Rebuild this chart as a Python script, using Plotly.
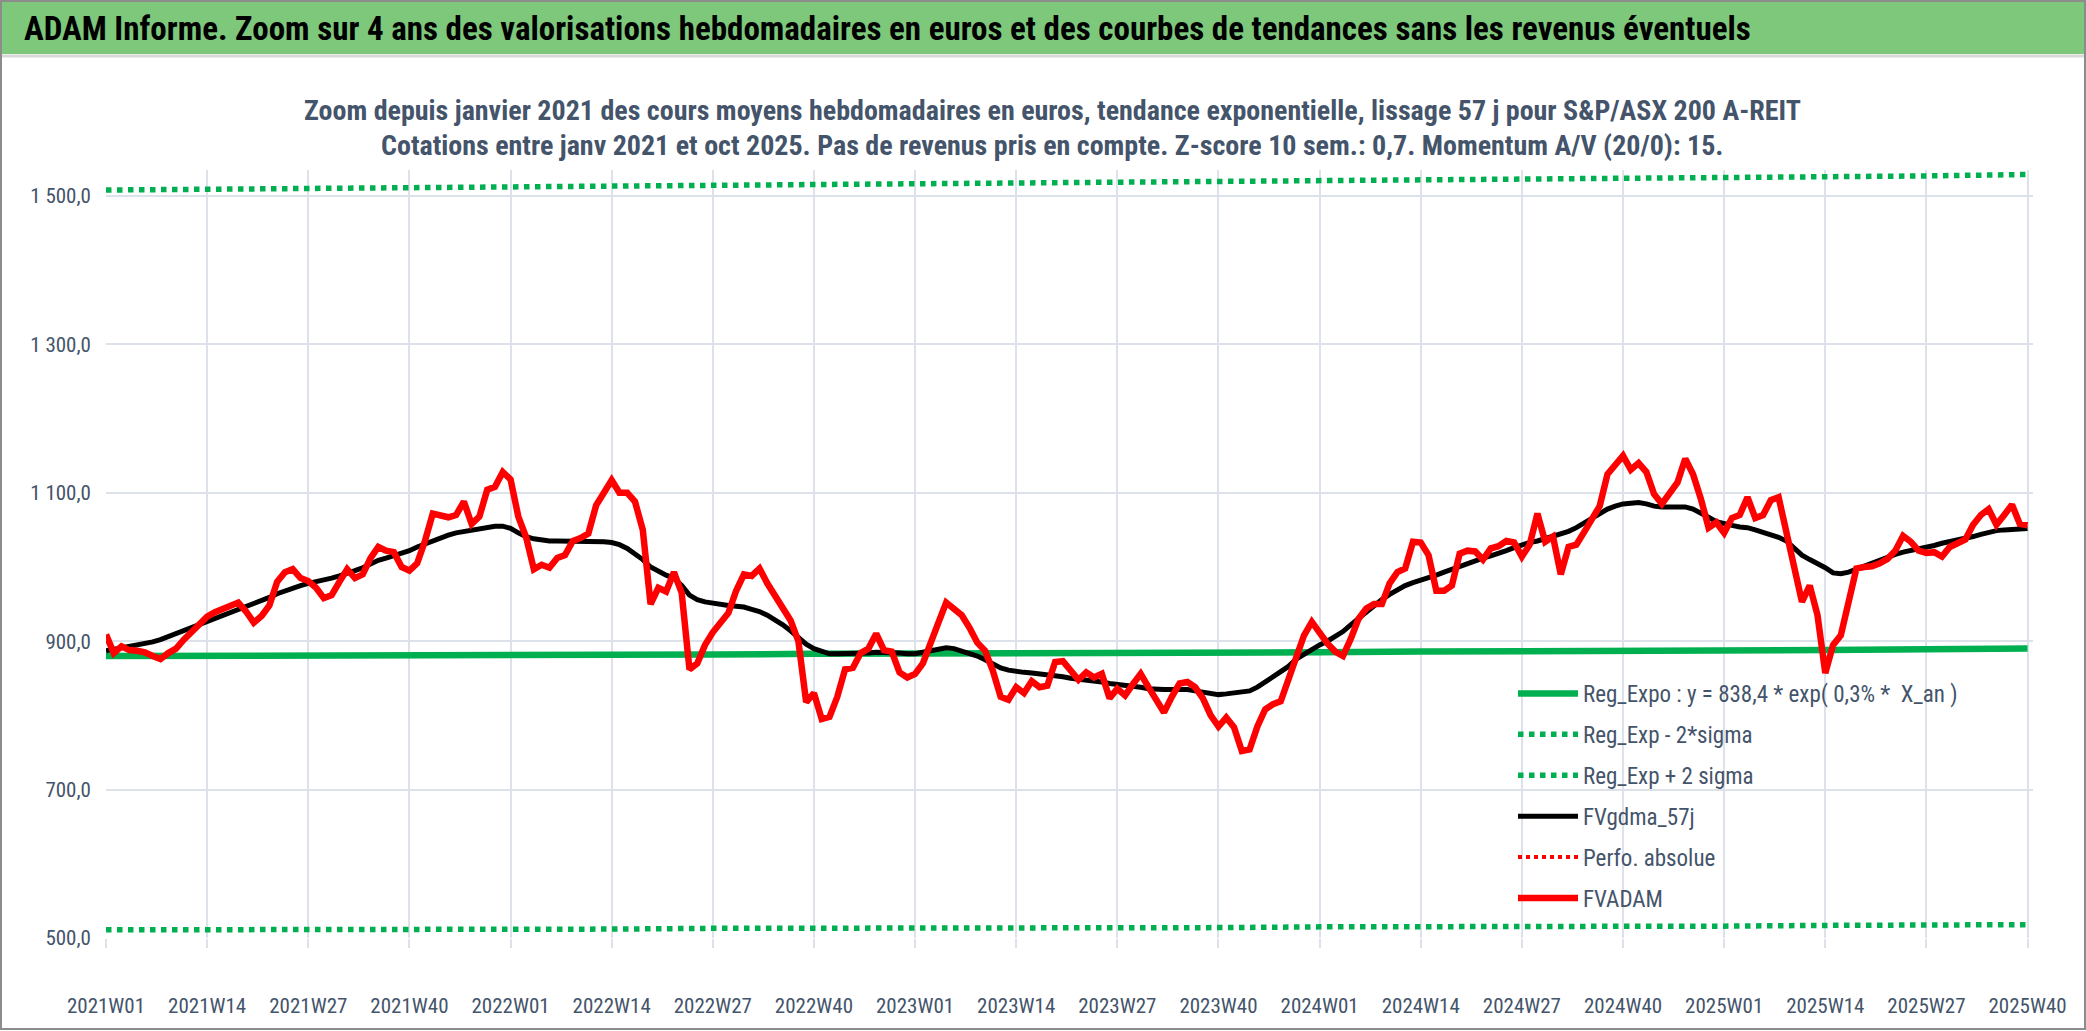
import plotly.graph_objects as go

# weekly categories 2021W01 .. 2025W40
weeks = [f"{yr}W{wk:02d}" for yr in (2021, 2022, 2023, 2024) for wk in range(1, 53)]
weeks += [f"2025W{wk:02d}" for wk in range(1, 41)]
tick_weeks = weeks[::13]

# FVADAM weekly values
fvadam = [
    909, 884, 893, 888, 887, 885, 880, 876, 884, 890, 902, 912, 920, 933, 939, 943, 947, 952, 940, 925,
    934, 948, 980, 993, 997, 985, 981, 972, 958, 962, 980, 997, 985, 990, 1012, 1027, 1022, 1020, 1000, 995,
    1005, 1035, 1072, 1069, 1067, 1070, 1088, 1058, 1068, 1104, 1108, 1128, 1118, 1068, 1040, 997, 1003, 999, 1012, 1016,
    1035, 1039, 1045, 1083, 1100, 1117, 1100, 1100, 1088, 1050, 950, 972, 967, 993, 965, 862, 870, 895, 912, 925,
    938, 968, 990, 988, 998, 978, 960, 943, 928, 900, 818, 830, 795, 798, 825, 862, 864, 884, 890, 910,
    888, 886, 858, 851, 856, 870, 895, 925, 952, 942, 935, 918, 898, 887, 860, 825, 821, 838, 830, 846,
    838, 840, 872, 873, 860, 848, 858, 851, 856, 823, 836, 827, 842, 856, 838, 822, 804, 825, 843, 845,
    838, 823, 800, 785, 797, 784, 752, 754, 785, 808, 815, 819, 848, 874, 908, 926, 910, 897, 886, 880,
    903, 930, 944, 950, 950, 978, 993, 998, 1034, 1033, 1016, 968, 968, 975, 1018, 1022, 1021, 1010, 1025, 1028,
    1035, 1033, 1014, 1030, 1072, 1034, 1041, 990, 1027, 1030, 1047, 1063, 1082, 1125, 1136, 1150, 1131, 1140, 1128, 1098,
    1085, 1098, 1114, 1146, 1125, 1092, 1053, 1060, 1046, 1066, 1070, 1094, 1066, 1070, 1090, 1094, 1047, 1000, 953, 975,
    935, 857, 895, 908, 955, 998, 1000, 1001, 1005, 1011, 1022, 1042, 1034, 1022, 1019, 1020, 1014, 1027, 1032, 1037,
    1057, 1070, 1078, 1057, 1070, 1084, 1058, 1056,
]

# FVgdma_57j smoothed curve
fvgdma = [
    887, 889, 891, 892, 894, 896, 899, 902, 906, 910, 914, 918, 923, 927, 931, 935, 939, 943, 947, 951,
    954, 959, 964, 968, 972, 975, 978, 980, 983, 985, 988, 991, 995, 999, 1004, 1009, 1012, 1015, 1018, 1022,
    1027, 1031, 1036, 1040, 1043, 1046, 1048, 1050, 1052, 1054, 1055, 1055, 1052, 1046, 1041, 1038, 1036, 1035, 1035, 1035,
    1035, 1035, 1035, 1035, 1034, 1033, 1030, 1025, 1018, 1010, 1000, 994, 989, 985, 975, 962, 956, 953, 951, 949,
    948, 947, 946, 943, 940, 935, 929, 922, 914, 904, 896, 890, 886, 883, 883, 883, 884, 884, 884, 885,
    885, 885, 884, 883, 883, 885, 887, 889, 891, 890, 887, 884, 880, 875, 869, 864, 861, 859, 858, 857,
    856, 855, 853, 852, 850, 849, 847, 846, 845, 843, 842, 840, 839, 838, 836, 835, 835, 835, 835, 835,
    833, 831, 830, 828, 829, 830, 831, 833, 838, 845, 851, 857, 866, 876, 883, 890, 895, 900, 906, 913,
    922, 931, 940, 948, 956, 963, 970, 975, 979, 982, 986, 989, 993, 997, 1000, 1004, 1008, 1012, 1015, 1018,
    1022, 1026, 1030, 1033, 1035, 1038, 1041, 1044, 1048, 1053, 1059, 1065, 1072, 1078, 1082, 1085, 1086, 1087, 1085, 1082,
    1081, 1081, 1081, 1081, 1078, 1073, 1067, 1061, 1058, 1056, 1054, 1053, 1050, 1047, 1044, 1040, 1035, 1025, 1016, 1010,
    1005, 999, 992, 991, 993, 997, 1002, 1006, 1010, 1014, 1017, 1020, 1022, 1025, 1027, 1029, 1032, 1034, 1036, 1039,
    1041, 1044, 1047, 1049, 1050, 1051, 1052, 1052,
]

# regression and bands, read at the tick weeks
reg_expo = [880, 880, 881, 881, 882, 882, 882, 883, 883, 884, 884, 885, 885, 886, 886, 887, 888, 888, 889, 890]
reg_minus = [511, 511, 511, 512, 512, 512, 513, 513, 513, 514, 514, 514, 515, 515, 516, 516, 516, 517, 518, 518]
reg_plus = [1508, 1509, 1510, 1511, 1512, 1513, 1514, 1515, 1516, 1517, 1518, 1519, 1520, 1521, 1522, 1523, 1524, 1526, 1527, 1529]
perfo_abs = [None] * len(weeks)

y_ticks = [500, 700, 900, 1100, 1300, 1500]
y_labels = ["500,0", "700,0", "900,0", "1 100,0", "1 300,0", "1 500,0"]

title = ("ADAM Informe. Zoom sur 4 ans des valorisations hebdomadaires en euros "
         "et des courbes de tendances sans les revenus éventuels")
sub1 = ("Zoom depuis janvier 2021 des cours moyens hebdomadaires en euros, tendance exponentielle, "
        "lissage 57 j pour S&P/ASX 200 A-REIT")
sub2 = ("Cotations entre janv 2021 et oct 2025. Pas de revenus pris en compte. "
        "Z-score 10 sem.: 0,7. Momentum A/V (20/0): 15.")

FONT = "Liberation Sans Narrow, Arial Narrow, Roboto Condensed, Liberation Sans, sans-serif"
SLATE = "#44546A"
GREEN = "#00B050"

fig = go.Figure()
fig.add_trace(go.Scatter(x=tick_weeks, y=reg_expo, mode="lines", legendgroup="a",
                         name="Reg_Expo : y = 838,4 * exp( 0,3% *  X_an )",
                         line=dict(color=GREEN, width=6.5)))
fig.add_trace(go.Scatter(x=tick_weeks, y=reg_minus, mode="lines", legendgroup="b",
                         name="Reg_Exp - 2*sigma",
                         line=dict(color=GREEN, width=5.5, dash="dot")))
fig.add_trace(go.Scatter(x=tick_weeks, y=reg_plus, mode="lines", legendgroup="c",
                         name="Reg_Exp + 2 sigma",
                         line=dict(color=GREEN, width=5.5, dash="dot")))
fig.add_trace(go.Scatter(x=weeks, y=fvgdma, mode="lines", legendgroup="d",
                         name="FVgdma_57j", line=dict(color="black", width=5)))
fig.add_trace(go.Scatter(x=weeks, y=perfo_abs, mode="lines", legendgroup="e",
                         name="Perfo. absolue", showlegend=True,
                         line=dict(color="red", width=4, dash="dot")))
fig.add_trace(go.Scatter(x=weeks, y=fvadam, mode="lines", legendgroup="f",
                         name="FVADAM", line=dict(color="#FF0000", width=6.5)))

# plot area: x 106..2033, y 170..938 px
W, H = 2086, 1031
L, R, T, B = 106, 53, 170, 93
pw, ph = W - L - R, H - T - B


def px(xp):
    return (xp - L) / pw


def py(yp):
    return (H - B - yp) / ph


shapes = [
    dict(type="rect", xref="paper", yref="paper", x0=px(0), x1=px(W), y0=py(54), y1=py(0),
         fillcolor="#7DC87B", line=dict(width=0), layer="below"),
    dict(type="line", xref="paper", yref="paper", x0=px(0), x1=px(W), y0=py(56), y1=py(56),
         line=dict(color="#D9D9D9", width=3)),
    dict(type="rect", xref="paper", yref="paper", x0=px(1), x1=px(W - 1), y0=py(H - 2), y1=py(1),
         line=dict(color="#8C8C8C", width=2)),
]

annotations = [
    dict(text="<b>" + title + "</b>", x=px(22), y=py(28), xref="paper", yref="paper",
         xanchor="left", yanchor="middle", showarrow=False,
         font=dict(family=FONT, size=33, color="black")),
    dict(text="<b>" + sub1 + "</b>", x=px(1052), y=py(111), xref="paper", yref="paper",
         xanchor="center", yanchor="middle", showarrow=False,
         font=dict(family=FONT, size=28, color=SLATE)),
    dict(text="<b>" + sub2 + "</b>", x=px(1052), y=py(145), xref="paper", yref="paper",
         xanchor="center", yanchor="middle", showarrow=False,
         font=dict(family=FONT, size=28, color=SLATE)),
]

fig.update_layout(
    width=W, height=H,
    margin=dict(l=L, r=R, t=T, b=B),
    paper_bgcolor="white", plot_bgcolor="white",
    font=dict(family=FONT, color=SLATE),
    shapes=shapes, annotations=annotations,
    legend=dict(x=px(1513), y=py(672), xanchor="left", yanchor="top",
                bgcolor="rgba(0,0,0,0)", font=dict(family=FONT, size=23, color=SLATE),
                tracegroupgap=8, itemwidth=60),
    xaxis=dict(type="category", categoryorder="array", categoryarray=weeks,
               range=[0, 247.7], tickmode="array", tickvals=tick_weeks, ticktext=tick_weeks,
               showgrid=True, gridcolor="#DDE2EA", gridwidth=2,
               ticks="outside", ticklen=9, tickcolor="#DDE2EA", tickwidth=2,
               ticklabelstandoff=40,
               tickangle=0, tickfont=dict(family=FONT, size=21, color=SLATE),
               showline=False, zeroline=False),
    yaxis=dict(range=[500, 1535], tickmode="array", tickvals=y_ticks, ticktext=y_labels,
               showgrid=True, gridcolor="#DDE2EA", gridwidth=2,
               tickfont=dict(family=FONT, size=21, color=SLATE),
               ticks="", ticklabelstandoff=14, zeroline=False, showline=False),
)

fig.write_html("out.html", config={"displayModeBar": False},
               post_script="document.body.style.margin='0';document.body.style.overflow='hidden';")
